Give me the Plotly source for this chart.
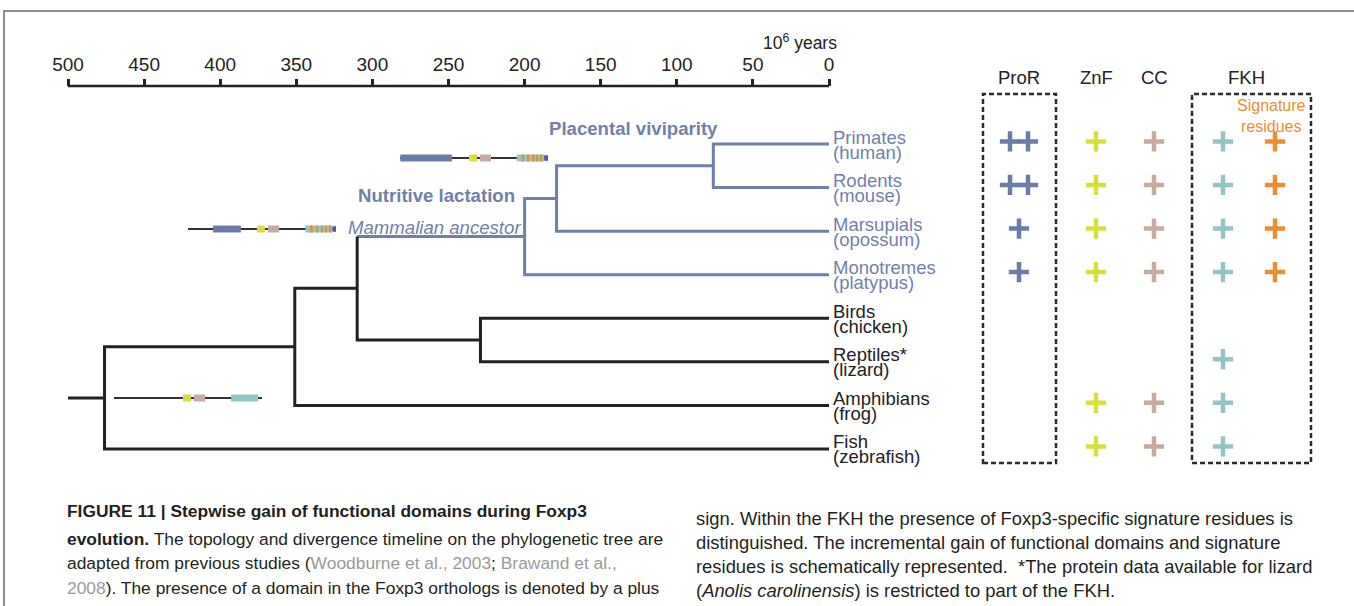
import plotly.graph_objects as go

# ---------------- data ----------------
leaf_groups = ["Primates", "Rodents", "Marsupials", "Monotremes",
               "Birds", "Reptiles*", "Amphibians", "Fish"]
leaf_species = ["(human)", "(mouse)", "(opossum)", "(platypus)",
                "(chicken)", "(lizard)", "(frog)", "(zebrafish)"]

node_names = ["Euarchontoglires", "Theria", "Mammalia", "Sauropsida",
              "Amniota", "Tetrapoda", "Osteichthyes"]
node_ages = [76, 179, 200, 229, 310, 351, 476]          # 10^6 years
node_child1 = ["Primates", "Euarchontoglires", "Theria", "Birds",
               "Mammalia", "Amniota", "Tetrapoda"]
node_child2 = ["Rodents", "Marsupials", "Monotremes", "Reptiles*",
               "Sauropsida", "Amphibians", "Fish"]
mammal_clade = ["Mammalia", "Theria", "Euarchontoglires",
                "Primates", "Rodents", "Marsupials", "Monotremes"]
root_age = 500

time_ticks = [500, 450, 400, 350, 300, 250, 200, 150, 100, 50, 0]

# domain presence per leaf (number of plus signs)
pres_ProR = [2, 2, 1, 1, 0, 0, 0, 0]
pres_ZnF = [1, 1, 1, 1, 0, 0, 1, 1]
pres_CC = [1, 1, 1, 1, 0, 0, 1, 1]
pres_FKH = [1, 1, 1, 1, 0, 1, 1, 1]
pres_Sig = [1, 1, 1, 1, 0, 0, 0, 0]

# schematic Foxp3 proteins (amino-acid coordinates)
protein_len = 431
glyph_names = ["placental", "mammalian ancestor", "bony-fish ancestor"]
glyph_pror = [(1, 151), (73, 154), None]
glyph_znf = [(201, 224), (201, 224), (201, 224)]
glyph_cc = [(233, 265), (233, 265), (233, 265)]
glyph_fkh = [(340, 420), (342, 421), (341, 420)]
glyph_sig = [[356, 371, 386, 397, 409], [358, 373, 388, 400, 412], []]
glyph_cap = [(420, 431), (421, 431), None]

# ---------------- layout / style ----------------
W, H = 1354, 606
AX_L, AX_R = 68, 829            # px of 500 and 0 My
K = (AX_R - AX_L) / 500.0       # px per My
ROW0, ROWSTEP = 144, 43.57      # px of first leaf, px between leaves
AXIS_PY = 86                    # px of the time-scale line
BLUE = "#6f81aa"
BLACK = "#222222"
C_PROR = "#6b7da7"
C_ZNF = "#d7df3c"
C_CC = "#c6ab9e"
C_FKH = "#92c5c4"
C_SIG = "#e98f30"
C_CAP = "#4b5bb3"
FONT = "Liberation Sans, Arial, sans-serif"


def px2my(px):
    return (AX_R - px) / K


def py2row(py):
    return (py - ROW0) / ROWSTEP


def px_(x):
    return x / W


def py_(y):
    return 1 - y / H


fig = go.Figure()

# ---------- tree ----------
ypos = {n: i for i, n in enumerate(leaf_groups)}
age = {n: 0 for n in leaf_groups}
for n, a, c1, c2 in zip(node_names, node_ages, node_child1, node_child2):
    ypos[n] = (ypos[c1] + ypos[c2]) / 2
    age[n] = a


def col(n):
    return BLUE if n in mammal_clade else BLACK


segs = {BLUE: ([], []), BLACK: ([], [])}


def add_poly(pts, color):
    xs, ys = segs[color]
    for p in pts:
        xs.append(p[0])
        ys.append(p[1])
    xs.append(None)
    ys.append(None)


for n, a, c1, c2 in zip(node_names, node_ages, node_child1, node_child2):
    pts = [(age[c1], ypos[c1]), (a, ypos[c1]), (a, ypos[c2]), (age[c2], ypos[c2])]
    cols = [col(c1), col(n), col(c2)]
    cur = [pts[0], pts[1]]
    cc = cols[0]
    for i in range(1, 3):
        if cols[i] == cc:
            cur.append(pts[i + 1])
        else:
            add_poly(cur, cc)
            cur = [pts[i], pts[i + 1]]
            cc = cols[i]
    add_poly(cur, cc)
root = node_names[-1]
add_poly([(root_age, ypos[root]), (age[root], ypos[root])], BLACK)

for c, (xs, ys) in segs.items():
    fig.add_trace(go.Scatter(x=xs, y=ys, mode="lines",
                             line=dict(color=c, width=3),
                             hoverinfo="skip", showlegend=False))

# time-scale baseline (ticks and labels come from the x axis)
fig.add_trace(go.Scatter(x=[max(time_ticks), min(time_ticks)],
                         y=[py2row(AXIS_PY)] * 2, mode="lines",
                         line=dict(color=BLACK, width=2.5),
                         hoverinfo="skip", showlegend=False))

# ---------- protein glyphs ----------
glyph_anchor_px = [400, 188, 114]
glyph_row_py = [158, 229, 398]
MY_PER_AA = (148.0 / protein_len) / K


def add_block(g, s, e, color, thick):
    a0 = px2my(glyph_anchor_px[g])
    left = a0 - s * MY_PER_AA
    right = a0 - e * MY_PER_AA
    fig.add_trace(go.Bar(orientation="h", base=[left], x=[right - left],
                         y=[py2row(glyph_row_py[g])], width=thick,
                         marker=dict(color=color, line=dict(width=0)),
                         hoverinfo="skip", showlegend=False))


for g in range(len(glyph_names)):
    add_block(g, 0, protein_len, "#333333", 0.045)
    if glyph_pror[g]:
        add_block(g, *glyph_pror[g], C_PROR, 0.16)
    add_block(g, *glyph_znf[g], C_ZNF, 0.16)
    add_block(g, *glyph_cc[g], C_CC, 0.16)
    add_block(g, *glyph_fkh[g], C_FKH, 0.16)
    for s in glyph_sig[g]:
        add_block(g, s, s + 5, C_SIG, 0.16)
    if glyph_cap[g]:
        add_block(g, *glyph_cap[g], C_CAP, 0.13)

# ---------- presence panel ----------
columns = [("ProR", pres_ProR, C_PROR, 1019), ("ZnF", pres_ZnF, C_ZNF, 1096),
           ("CC", pres_CC, C_CC, 1154), ("FKH", pres_FKH, C_FKH, 1223),
           ("Sig", pres_Sig, C_SIG, 1275)]
for name, pres, color, cx in columns:
    xs, ys = [], []
    for i, n in enumerate(pres):
        if n == 1:
            xs.append(cx)
            ys.append(i - 0.06)
        elif n == 2:
            xs += [cx - 9, cx + 9]
            ys += [i - 0.06, i - 0.06]
    fig.add_trace(go.Scatter(x=xs, y=ys, mode="markers", xaxis="x2", yaxis="y",
                             marker=dict(symbol="cross-thin", size=14.5,
                                         line=dict(color=color, width=4.5)),
                             hoverinfo="skip", showlegend=False))

ann = []
# leaf labels
for i, (g, s) in enumerate(zip(leaf_groups, leaf_species)):
    c = col(g)
    ann.append(dict(x=0, y=i, xref="x", yref="y", text=g, xanchor="left",
                    yanchor="middle", xshift=2, yshift=7, showarrow=False,
                    font=dict(family=FONT, size=18.5, color=c)))
    ann.append(dict(x=0, y=i, xref="x", yref="y", text=s, xanchor="left",
                    yanchor="middle", xshift=2, yshift=-8, showarrow=False,
                    font=dict(family=FONT, size=18.5, color=c)))

# clade labels
ann.append(dict(x=px_(547), y=py_(129), xref="paper", yref="paper",
                text="<b>Placental viviparity</b>", xanchor="left", yanchor="middle",
                showarrow=False, font=dict(family=FONT, size=18.6, color=BLUE)))
ann.append(dict(x=px_(517), y=py_(195), xref="paper", yref="paper",
                text="<b>Nutritive lactation</b>", xanchor="right", yanchor="middle",
                showarrow=False, font=dict(family=FONT, size=18.6, color=BLUE)))
ann.append(dict(x=px_(523), y=py_(227), xref="paper", yref="paper",
                text="<i>Mammalian ancestor</i>", xanchor="right", yanchor="middle",
                showarrow=False, font=dict(family=FONT, size=18.6, color=BLUE)))

# time unit
ann.append(dict(x=px_(839), y=py_(42), xref="paper", yref="paper",
                text="10<sup>6</sup> years", xanchor="right", yanchor="middle",
                showarrow=False, font=dict(family=FONT, size=17.5, color=BLACK)))

# panel headers
for txt, x in [("ProR", 1019), ("ZnF", 1096), ("CC", 1154), ("FKH", 1246)]:
    ann.append(dict(x=x, y=py_(77), xref="x2", yref="paper", text=txt,
                    xanchor="center", yanchor="middle", showarrow=False,
                    font=dict(family=FONT, size=18.5, color=BLACK)))
ann.append(dict(x=1271, y=py_(116), xref="x2", yref="paper",
                text="Signature<br>residues", xanchor="center", yanchor="middle",
                showarrow=False, align="center",
                font=dict(family=FONT, size=16, color=C_SIG)))

# caption
REF = "<span style='color:#9a9a9a'>%s</span>"
left_lines = [
    "<b>FIGURE 11 | Stepwise gain of functional domains during Foxp3</b>",
    "<b>evolution.</b> The topology and divergence timeline on the phylogenetic tree are",
    "adapted from previous studies (" + REF % "Woodburne et al., 2003" + "; "
    + REF % "Brawand et al.,",
    REF % "2008" + "). The presence of a domain in the Foxp3 orthologs is denoted by a plus",
]
right_lines = [
    "sign. Within the FKH the presence of Foxp3-specific signature residues is",
    "distinguished. The incremental gain of functional domains and signature",
    "residues is schematically represented.  *The protein data available for lizard",
    "(<i>Anolis carolinensis</i>) is restricted to part of the FKH.",
]
for k, t in enumerate(left_lines):
    ann.append(dict(x=px_(65), y=py_([511, 539, 563, 588][k]), xref="paper",
                    yref="paper", text=t, xanchor="left", yanchor="middle",
                    showarrow=False, font=dict(family=FONT, size=17.4, color="#231f20")))
for k, t in enumerate(right_lines):
    ann.append(dict(x=px_(694), y=py_([518, 542, 566, 590][k]), xref="paper",
                    yref="paper", text=t, xanchor="left", yanchor="middle",
                    showarrow=False, font=dict(family=FONT, size=18.4, color="#231f20")))

shapes = []
# dashed boxes
for x0, x1 in [(983, 1056), (1192, 1311)]:
    shapes.append(dict(type="rect", xref="x2", yref="paper", x0=x0, x1=x1,
                       y0=py_(463), y1=py_(94),
                       line=dict(color="#2a2a2a", width=2.5, dash="5px,3px")))
# figure frame
shapes.append(dict(type="path", xref="paper", yref="paper",
                   path="M %f %f L %f %f L %f %f" % (px_(4), 0, px_(4), py_(11), 1, py_(11)),
                   line=dict(color="#6a6a6a", width=1.5)))

xl = px2my(0)
xr = px2my(W)
fig.update_layout(
    width=W, height=H, autosize=False,
    margin=dict(l=0, r=0, t=0, b=0, pad=0, autoexpand=False),
    paper_bgcolor="white", plot_bgcolor="rgba(0,0,0,0)",
    barmode="overlay",
    xaxis=dict(range=[xl, xr], domain=[0, 1], fixedrange=True,
               anchor="free", position=py_(AXIS_PY), side="top",
               showline=False, showgrid=False, zeroline=False,
               ticks="outside", ticklen=7, tickwidth=2.5, tickcolor=BLACK,
               tickvals=time_ticks, ticktext=[str(t) for t in time_ticks],
               tickfont=dict(family=FONT, size=19, color=BLACK),
               automargin=False),
    xaxis2=dict(range=[0, W], visible=False, domain=[0, 1], overlaying="x",
                fixedrange=True),
    yaxis=dict(range=[py2row(H), py2row(0)], visible=False, domain=[0, 1],
               fixedrange=True),
    annotations=ann, shapes=shapes,
    showlegend=False,
)

fig.write_html("out.html", config={"displayModeBar": False},
               post_script="document.body.style.margin='0';"
                           "document.body.style.overflow='hidden';")
